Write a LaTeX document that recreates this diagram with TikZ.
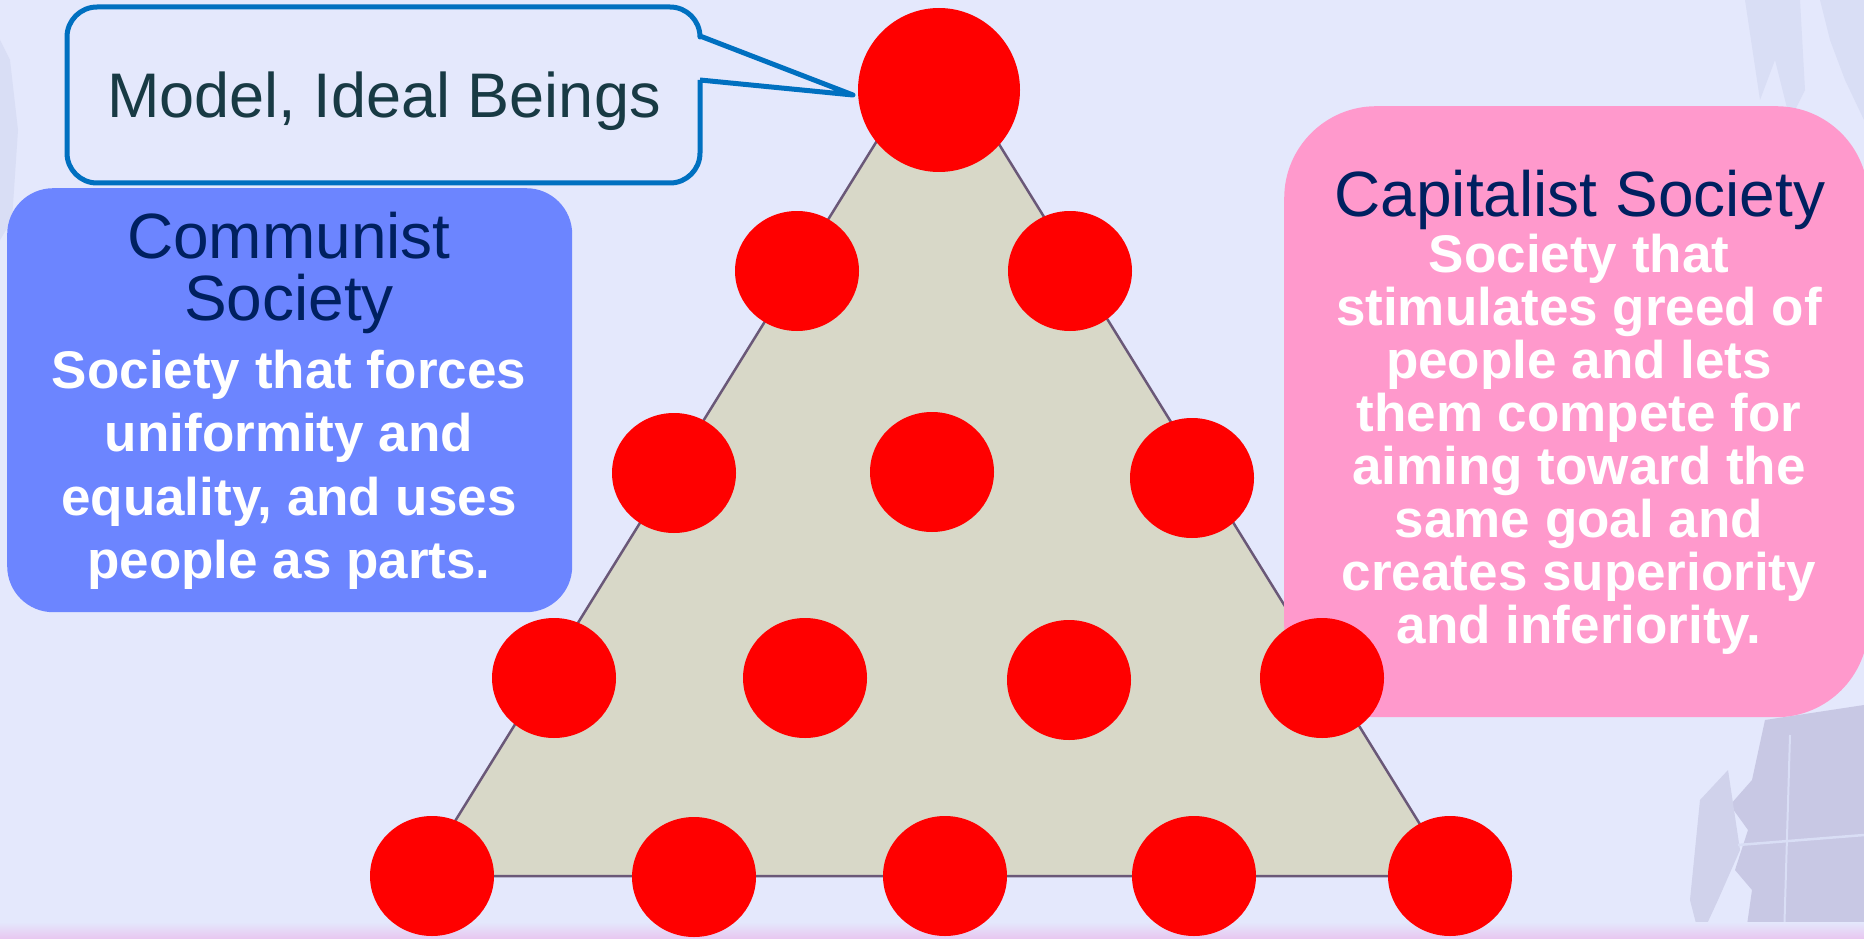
\documentclass[tikz,border=0pt]{standalone}
\usepackage{fontspec}
\setmainfont{Liberation Sans}
\usetikzlibrary{shapes.geometric}
\definecolor{bgc}{HTML}{E4E8FC}
\definecolor{navy}{HTML}{002060}
\definecolor{calltext}{HTML}{183A44}
\definecolor{callblue}{HTML}{0070C0}
\definecolor{combox}{HTML}{6C85FF}
\definecolor{capbox}{HTML}{FF99CC}
\definecolor{trifill}{HTML}{D8D8C8}
\definecolor{triline}{HTML}{6A5878}
\definecolor{texc}{HTML}{C8C8E4}
\definecolor{texl}{HTML}{D9DEF5}
\definecolor{pinkstrip}{HTML}{E8C6F0}
\tikzset{
  dot/.style={ellipse, fill=red, draw=none, minimum width=124pt, minimum height=120pt, inner sep=0pt},
  bigdot/.style={ellipse, fill=red, draw=none, minimum width=162pt, minimum height=164pt, inner sep=0pt},
  title/.style={text=navy, font=\fontsize{64}{64}\selectfont, anchor=base, inner sep=0pt},
  body/.style={text=white, font=\fontsize{53}{53}\selectfont\bfseries, anchor=base, inner sep=0pt},
  box/.style={draw=none, inner sep=0pt, anchor=north west}
}
\begin{document}
\begin{tikzpicture}[x=1pt,y=-1pt]
\useasboundingbox (0,0) rectangle (1864,939);
\fill[bgc] (0,0) rectangle (1864,939);
% background texture
\fill[texl] (1745,0) -- (1800,0) -- (1805,90) -- (1790,120) -- (1775,60) -- (1760,100) -- cycle;
\fill[texl] (1820,0) -- (1864,0) -- (1864,120) -- (1845,80) -- (1830,40) -- cycle;
\fill[texl] (0,40) -- (10,60) -- (18,130) -- (12,220) -- (0,240) -- cycle;
\fill[texc] (1765,720) -- (1864,705) -- (1864,939) -- (1745,939) -- (1752,890) -- (1735,870) -- (1748,830) -- (1730,805) -- (1752,780) -- cycle;
\fill[texc!70!bgc] (1700,800) -- (1728,770) -- (1740,850) -- (1718,900) -- (1700,939) -- (1690,900) -- cycle;
\draw[texl, line width=2.5pt] (1738,845) -- (1864,835);
\draw[texl, line width=2pt] (1790,735) -- (1784,939);
\shade[top color=bgc, bottom color=pinkstrip] (0,922) rectangle (1864,939);
% triangle
\coordinate (apex) at (937,44);
\coordinate (bl) at (421,876);
\coordinate (br) at (1452,876);
\filldraw[fill=trifill, draw=triline, line width=2.5pt, line join=round] (apex) -- (bl) -- (br) -- cycle;
% boxes
\node[box, fill=combox, rounded corners=46pt, minimum width=565pt, minimum height=424pt] (com) at (7,188) {};
\node[box, fill=capbox, rounded corners=92pt, minimum width=584pt, minimum height=611pt] (cap) at (1284,106) {};
% callout
\node[box, minimum width=633pt, minimum height=176pt] (call) at (67,7) {};
\coordinate (tip) at (853,95);
\draw[callblue, line width=5pt, fill=bgc, line join=round]
  (700,80) -- (tip) -- (700,36) -- (700,37) [rounded corners=30pt] -- (700,7) -- (67,7) -- (67,183) -- (700,183) [sharp corners] -- (700,80);
\node[text=calltext, font=\fontsize{63}{63}\selectfont, anchor=base, inner sep=0pt] (calltxt) at (384,118) {Model, Ideal Beings};
% communist text
\node[title] (comt1) at (289,258) {Communist};
\node[title] (comt2) at (289,320) {Society};
\foreach \t [count=\i] in {Society that forces, uniformity and, {equality, and uses}, people as parts.}
  \node[body] (comb\i) at (289,{388+63.5*(\i-1)}) {\t};
% capitalist text
\node[title] (capt) at (1580,216) {Capitalist Society};
\foreach \t [count=\i] in {Society that, stimulates greed of, people and lets, them compete for, aiming toward the, same goal and, creates superiority, and inferiority.}
  \node[body] (capb\i) at (1579,{272.5+53*(\i-1)}) {\t};
% dots
\node[bigdot] (d0) at (939,90) {};
\node[dot] (d11) at (797,271) {};
\node[dot] (d12) at (1070,271) {};
\node[dot] (d21) at (674,473) {};
\node[dot] (d22) at (932,472) {};
\node[dot] (d23) at (1192,478) {};
\node[dot] (d31) at (554,678) {};
\node[dot] (d32) at (805,678) {};
\node[dot] (d33) at (1069,680) {};
\node[dot] (d34) at (1322,678) {};
\node[dot] (d41) at (432,876) {};
\node[dot] (d42) at (694,877) {};
\node[dot] (d43) at (945,876) {};
\node[dot] (d44) at (1194,876) {};
\node[dot] (d45) at (1450,876) {};
\end{tikzpicture}
\end{document}
